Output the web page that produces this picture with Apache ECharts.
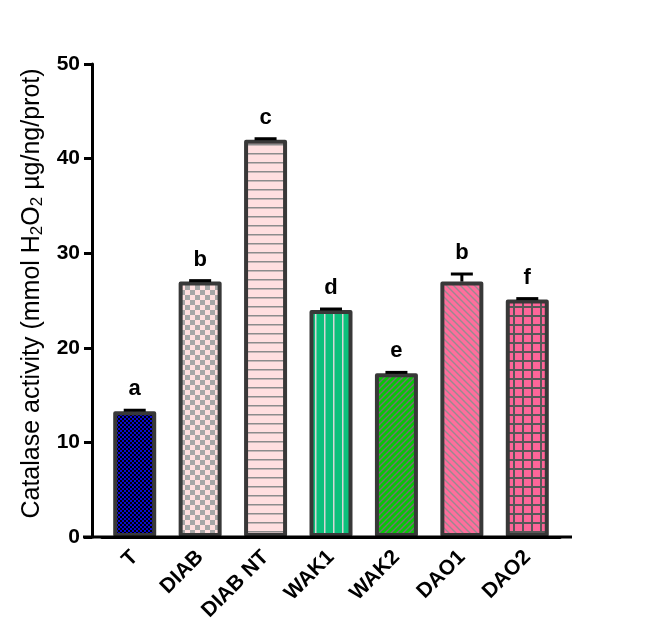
<!DOCTYPE html>
<html>
<head>
<meta charset="utf-8">
<script src="https://cdn.jsdelivr.net/npm/echarts@6/dist/echarts.min.js"></script>
<style>
  html, body { margin: 0; padding: 0; background: #fff; }
  #chart { width: 659px; height: 626px; }
</style>
</head>
<body>
<div id="chart"></div>
<script>
const categories = ["T", "DIAB", "DIAB NT", "WAK1", "WAK2", "DAO1", "DAO2"];
const means = [13.3, 27.0, 42.0, 24.0, 17.3, 27.0, 25.1];
const errors = [0.1, 0.1, 0.1, 0.1, 0.1, 0.8, 0.1];
const letters = ["a", "b", "c", "d", "e", "b", "f"];
const yTicks = { min: 0, max: 50, interval: 10 };

const FONT = "Liberation Sans, Arial, sans-serif";

function makePattern(w, h, bg, draw) {
  const c = document.createElement("canvas");
  c.width = w;
  c.height = h;
  const ctx = c.getContext("2d");
  ctx.fillStyle = bg;
  ctx.fillRect(0, 0, w, h);
  draw(ctx, w, h);
  return { image: c, repeat: "repeat" };
}

// fills for each group
const fills = [
  makePattern(4, 4, "#0a0ad0", (ctx) => {
    ctx.fillStyle = "#000";
    ctx.fillRect(0, 0, 2, 2);
    ctx.fillRect(2, 2, 2, 2);
  }),
  makePattern(10, 10, "#ffdede", (ctx) => {
    ctx.fillStyle = "#a6a6a6";
    ctx.fillRect(0, 0, 5, 5);
    ctx.fillRect(5, 5, 5, 5);
  }),
  makePattern(9, 9, "#ffdfe0", (ctx, w) => {
    ctx.fillStyle = "#8c8c8c";
    ctx.fillRect(0, 0, w, 1.5);
  }),
  makePattern(9, 9, "#0cc07c", (ctx, w, h) => {
    ctx.fillStyle = "#d6d6d6";
    ctx.fillRect(0, 0, 1.5, h);
  }),
  makePattern(6, 6, "#06c606", (ctx, w, h) => {
    ctx.strokeStyle = "#7a6a7a";
    ctx.lineWidth = 1.4;
    ctx.beginPath();
    ctx.moveTo(-1, h + 1); ctx.lineTo(w + 1, -1);
    ctx.moveTo(-1, 1); ctx.lineTo(1, -1);
    ctx.moveTo(w - 1, h + 1); ctx.lineTo(w + 1, h - 1);
    ctx.stroke();
  }),
  makePattern(7, 7, "#ff6e9c", (ctx, w, h) => {
    ctx.strokeStyle = "#9a8a90";
    ctx.lineWidth = 1.4;
    ctx.beginPath();
    ctx.moveTo(-1, -1); ctx.lineTo(w + 1, h + 1);
    ctx.moveTo(w - 1, -1); ctx.lineTo(w + 1, 1);
    ctx.moveTo(-1, h - 1); ctx.lineTo(1, h + 1);
    ctx.stroke();
  }),
  makePattern(9, 9, "#ff6699", (ctx, w, h) => {
    ctx.fillStyle = "#585858";
    ctx.fillRect(0, 0, w, 2);
    ctx.fillRect(0, 0, 2, h);
  })
];

const chart = echarts.init(document.getElementById("chart"), null, { renderer: "canvas" });

const option = {
  animation: false,
  backgroundColor: "#fff",
  grid: { left: 102, right: 99, top: 64, bottom: 89 },
  xAxis: {
    type: "category",
    data: categories,
    axisLine: { lineStyle: { color: "#000", width: 3 } },
    axisTick: { alignWithLabel: true, length: 7, lineStyle: { color: "#000", width: 3 } },
    axisLabel: {
      rotate: 45,
      color: "#000",
      fontFamily: FONT,
      fontWeight: "bold",
      fontSize: 21,
      margin: 17,
      padding: [28, 0, 0, 0]
    }
  },
  yAxis: {
    type: "value",
    min: yTicks.min,
    max: yTicks.max,
    interval: yTicks.interval,
    offset: 10,
    splitLine: { show: false },
    axisLine: { show: true, lineStyle: { color: "#000", width: 3 } },
    axisTick: { show: true, length: 8, lineStyle: { color: "#000", width: 3 } },
    axisLabel: { color: "#000", fontFamily: FONT, fontWeight: "bold", fontSize: 21, margin: 12 },
    name: "Catalase activity (mmol H{s|2}O{s|2} µg/ng/prot)",
    nameLocation: "middle",
    nameGap: 43,
    nameTextStyle: {
      color: "#000",
      fontFamily: FONT,
      fontSize: 25,
      padding: [0, 0, 0, 14],
      rich: {
        s: { color: "#000", fontFamily: FONT, fontSize: 17, verticalAlign: "bottom", padding: [10, 0, 0, 0] }
      }
    }
  },
  series: [
    {
      type: "bar",
      data: means.map((v, i) => ({ value: v, itemStyle: { color: fills[i] } })),
      barWidth: 43,
      itemStyle: { borderColor: "#383838", borderWidth: 4, borderJoin: "round" }
    },
    {
      type: "custom",
      data: means.map((v, i) => [i, v, errors[i], letters[i]]),
      renderItem: function (params, api) {
        const top = api.coord([api.value(0), api.value(1) + api.value(2)]);
        const mid = api.coord([api.value(0), api.value(1)]);
        const half = 11;
        return {
          type: "group",
          children: [
            { type: "line", shape: { x1: mid[0], y1: mid[1], x2: top[0], y2: top[1] }, style: { stroke: "#000", lineWidth: 3 } },
            { type: "line", shape: { x1: top[0] - half, y1: top[1], x2: top[0] + half, y2: top[1] }, style: { stroke: "#000", lineWidth: 3 } },
            {
              type: "text",
              x: top[0],
              y: top[1] - 10,
              style: {
                text: letters[params.dataIndex],
                fill: "#000",
                font: "bold 22px " + FONT,
                textAlign: "center",
                textVerticalAlign: "bottom"
              }
            }
          ]
        };
      },
      z: 5
    }
  ],
  graphic: [
    { type: "line", shape: { x1: 83, y1: 537, x2: 572, y2: 537 }, style: { stroke: "#000", lineWidth: 3 }, z: 10 }
  ]
};

chart.setOption(option);
</script>
</body>
</html>
